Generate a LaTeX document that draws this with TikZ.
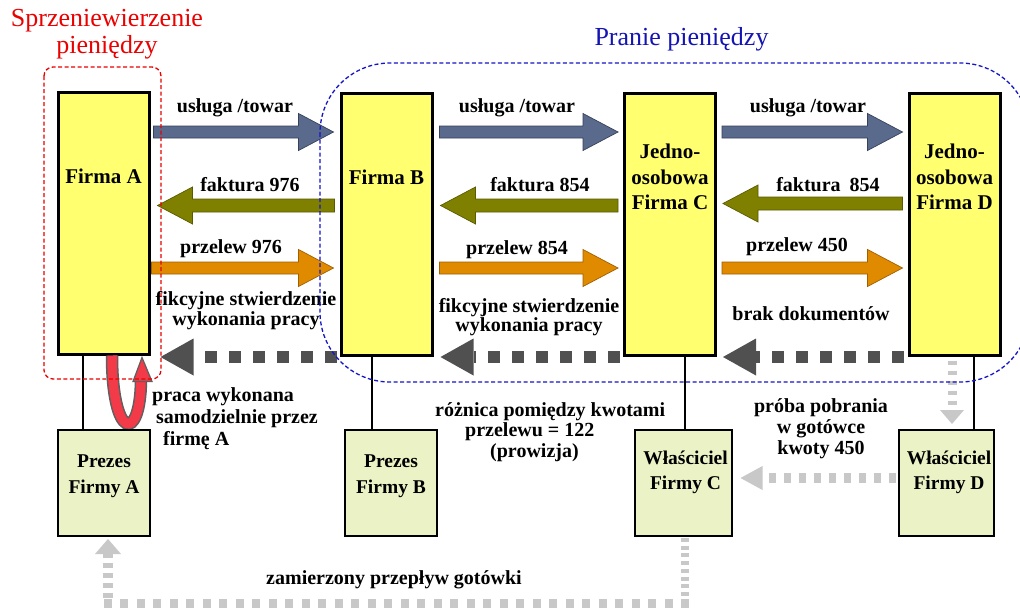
\documentclass[tikz,border=0pt]{standalone}
\usepackage{fontspec}
\setmainfont{Liberation Serif}
\usetikzlibrary{arrows.meta,calc}
\definecolor{yel}{RGB}{255,255,112}
\definecolor{lgr}{RGB}{235,243,198}
\definecolor{bgray}{RGB}{90,106,140}
\definecolor{bgrayd}{RGB}{55,65,90}
\definecolor{oliv}{RGB}{128,128,0}
\definecolor{olivd}{RGB}{90,90,0}
\definecolor{orng}{RGB}{224,138,0}
\definecolor{orngd}{RGB}{160,95,0}
\definecolor{dgr}{RGB}{80,80,80}
\definecolor{lgray}{RGB}{200,200,200}
\definecolor{redA}{RGB}{242,58,72}
\definecolor{uline}{RGB}{95,95,95}
\definecolor{titred}{RGB}{235,0,0}
\definecolor{titblue}{RGB}{20,20,180}
\definecolor{frblue}{RGB}{20,20,200}
\begin{document}
\begin{tikzpicture}[x=1pt,y=-1pt,
  topbox/.style={draw, line width=3pt, fill=yel, minimum width=91pt, minimum height=262pt, inner sep=0pt, outer sep=0pt},
  botbox/.style={draw, line width=1.8pt, fill=lgr, minimum height=106pt, inner sep=0pt, outer sep=0pt},
  boxtxt/.style={font=\fontsize{21}{25.5}\selectfont\bfseries, align=center, inner sep=0pt},
  btxt/.style={font=\fontsize{19.5}{25.5}\selectfont\bfseries, align=center, inner sep=0pt},
  lbl/.style={font=\fontsize{20}{21}\selectfont\bfseries, align=center, inner sep=0pt},
  thinline/.style={draw=black, line width=1.5pt},
  blockR/.style={line width=0.7pt, to path={let \p1=(\tikztostart), \p2=(\tikztotarget) in
     (\x1,\y1+6pt) -- (\x2-35pt,\y1+6pt) -- (\x2-35pt,\y1+18.5pt) -- (\x2,\y1) --
     (\x2-35pt,\y1-18.5pt) -- (\x2-35pt,\y1-6pt) -- (\x1,\y1-6pt) -- cycle}},
  blockL/.style={line width=0.7pt, to path={let \p1=(\tikztostart), \p2=(\tikztotarget) in
     (\x1,\y1+6.5pt) -- (\x2+35pt,\y1+6.5pt) -- (\x2+35pt,\y1+18.5pt) -- (\x2,\y1) --
     (\x2+35pt,\y1-18.5pt) -- (\x2+35pt,\y1-6.5pt) -- (\x1,\y1-6.5pt) -- cycle}},
  usl/.style={blockR, fill=bgray, draw=bgrayd},
  fak/.style={blockL, fill=oliv, draw=olivd},
  prz/.style={blockR, fill=orng, draw=orngd},
  dotarr/.style={draw=dgr, line width=12.5pt, dash pattern=on 12pt off 12pt,
     -{Triangle[length=33pt,width=37pt,line width=0pt]}},
  lgarr/.style={draw=lgray, -{Triangle[length=#1,width=24pt,line width=0pt]}},
  frame/.style={line width=1.3pt, dash pattern=on 4pt off 2.5pt}
]
\fill[white] (0,0) rectangle (1020,608);
\useasboundingbox (0,0) rectangle (1020,608);

% row levels
\coordinate (r1) at (0,132);
\coordinate (r2) at (0,205.5);
\coordinate (r2b) at (0,203.5);
\coordinate (r3) at (0,268);
\coordinate (r4) at (0,357);
\coordinate (r5) at (0,478);
\coordinate (bot) at (0,603);

% top boxes
\node[topbox] (FA) at (103.5,223) {};
\node[topbox] (FB) at (386.5,224.5) {};
\node[topbox] (FC) at (670,224.5) {};
\node[topbox] (FD) at (954.5,224.5) {};

% red U arrow (work done by firm A itself)
\draw[line width=12.5pt, draw=uline] ($(FA.south)+(8.5,1.5)$) .. controls ($(FA.south)+(8.5,85)$) and ($(FA.south)+(36.5,90)$) .. ($(FA.south)+(37.5,27)$);
\draw[line width=9.5pt, draw=redA] ($(FA.south)+(8.5,1.5)$) .. controls ($(FA.south)+(8.5,85)$) and ($(FA.south)+(36.5,90)$) .. ($(FA.south)+(37.5,27)$);
\filldraw[fill=redA, draw=uline, line width=1.2pt] ($(FA.south)+(29.5,27.5)$) -- ($(FA.south)+(48.5,27.5)$) -- ($(FA.south)+(38.5,3.5)$) -- cycle;

% bottom boxes
\node[botbox, minimum width=92pt] (PA) at (104,483) {};
\node[botbox, minimum width=92pt] (PB) at (391,483) {};
\node[botbox, minimum width=97pt] (WC) at (683.5,483) {};
\node[botbox, minimum width=95pt] (WD) at (946.5,483) {};

% thin connectors
\draw[thinline] ($(FA.south)+(-20.5,0)$) -- ($(FA.south |- PA.north)+(-20.5,0)$);
\draw[thinline] ($(FB.south)+(-14.5,0)$) -- ($(FB.south |- PB.north)+(-14.5,0)$);
\draw[thinline] ($(FC.south)+(15,0)$) -- ($(FC.south |- WC.north)+(15,0)$);
\draw[thinline] ($(FD.south)+(19.5,0)$) -- ($(FD.south |- WD.north)+(19.5,0)$);

% box texts
\node[boxtxt] (tA) at ($(FA.north)+(0,84)$) {Firma A};
\node[boxtxt] (tB) at ($(FB.north)+(0,83.5)$) {Firma B};
\node[boxtxt] (tC) at ($(FC.north)+(0,83.5)$) {Jedno-\\osobowa\\Firma C};
\node[boxtxt] (tD) at ($(FD.north)+(0,83.5)$) {Jedno-\\osobowa\\Firma D};
\node[btxt] (tPA) at ([yshift=7pt]PA.center) {Prezes\\Firmy A};
\node[btxt] (tPB) at ([yshift=7pt]PB.center) {Prezes\\Firmy B};
\node[btxt] (tWC) at ([xshift=2pt,yshift=10.5pt]WC.center) {Właściciel\\Firmy C};
\node[btxt] (tWD) at ([xshift=2.5pt,yshift=10.5pt]WD.center) {Właściciel\\Firmy D};

% usługa / towar
\draw[usl] ($(FA.east |- r1)+(4.5,0)$) to ($(FB.west |- r1)+(-7.5,0)$);
\draw[usl] ($(FB.east |- r1)+(7.5,0)$) to ($(FC.west |- r1)+(-6.5,0)$);
\draw[usl] ($(FC.east |- r1)+(6.5,0)$) to ($(FD.west |- r1)+(-6.5,0)$);
% faktura
\draw[fak] ($(FB.west |- r2)+(-6.5,0)$) to ($(FA.east |- r2)+(8.5,0)$);
\draw[fak] ($(FC.west |- r2)+(-6.5,0)$) to ($(FB.east |- r2)+(8.5,0)$);
\draw[fak] ($(FD.west |- r2b)+(-6.5,0)$) to ($(FC.east |- r2b)+(7.5,0)$);
% przelew
\draw[prz] ($(FA.east |- r3)+(2.5,0)$) to ($(FB.west |- r3)+(-7.5,0)$);
\draw[prz] ($(FB.east |- r3)+(7.5,0)$) to ($(FC.west |- r3)+(-6.5,0)$);
\draw[prz] ($(FC.east |- r3)+(6.5,0)$) to ($(FD.west |- r3)+(-6.5,0)$);
% dotted confirmations
\draw[dotarr] ($(FB.west |- r4)+(-4.5,0)$) -- ($(FA.east |- r4)+(11.5,0)$);
\draw[dotarr] ($(FC.west |- r4)+(-4.5,0)$) -- ($(FB.east |- r4)+(8.5,0)$);
\draw[dotarr] ($(FD.west |- r4)+(-5.5,0)$) -- ($(FC.east |- r4)+(7.5,0)$);

% light grey cash flows
\draw[lgarr=14pt, line width=9pt, dash pattern=on 4pt off 6pt] ($(FD.south)+(-2.5,5)$) -- ($(FD.south |- WD.north)+(-2.5,-6)$);
\draw[lgarr=22pt, line width=10pt, dash pattern=on 7pt off 8pt] ($(WD.west |- r5)+(-3,0)$) -- ($(WC.east |- r5)+(8.5,0)$);
\coordinate (c1) at ($(WC.south |- bot)+(1.5,0)$);
\coordinate (c2) at ($(PA.south |- bot)+(4,0)$);
\draw[draw=lgray, line width=8pt, dash pattern=on 4pt off 3.7pt] ($(WC.south)+(1.5,2)$) -- ($(c1)+(0,-4)$);
\draw[draw=lgray, line width=9pt, dash pattern=on 8pt off 8.5pt] ($(c1)+(4,0)$) -- ($(c2)+(-4,0)$);
\draw[draw=lgray, line width=10pt, dash pattern=on 5pt off 5pt, -{Triangle[length=15pt,width=26pt,line width=0pt]}] ($(c2)+(0,-5)$) -- ($(PA.south)+(4,3)$);

% labels
\node[lbl] (l1) at (235,108) {usługa /towar};
\node[lbl] (l2) at (517,108) {usługa /towar};
\node[lbl] (l3) at (808,108) {usługa /towar};
\node[lbl] (l4) at (250,185) {faktura 976};
\node[lbl] (l5) at (540,185) {faktura 854};
\node[lbl] (l6) at (828,185) {faktura\hspace{0.45em}854};
\node[lbl] (l7) at (231,249) {przelew 976};
\node[lbl] (l8) at (517,250) {przelew 854};
\node[lbl] (l9) at (797,247) {przelew 450};
\node[lbl, font=\fontsize{20}{20}\selectfont\bfseries] (l10) at (246,311) {fikcyjne stwierdzenie\\wykonania pracy};
\node[lbl, font=\fontsize{20}{19.5}\selectfont\bfseries] (l11) at (529,317) {fikcyjne stwierdzenie\\wykonania pracy};
\node[lbl] (l12) at (811,314) {brak dokumentów};
\node[lbl, align=left, anchor=west, font=\fontsize{20}{22}\selectfont\bfseries] (l13) at (152,419) {praca wykonana\\\hspace*{4pt}samodzielnie przez\\\hspace*{11pt}firmę A};
\node[lbl, align=left, anchor=west, font=\fontsize{20}{20.5}\selectfont\bfseries] (l14) at (435,432) {różnica pomiędzy kwotami\\\hspace*{30pt}przelewu = 122\\\hspace*{55pt}(prowizja)};
\node[lbl] (l15) at (821,429) {próba pobrania\\w gotówce\\kwoty 450};
\node[lbl] (l16) at (394,580) {zamierzony przepływ gotówki};

% titles
\node[font=\fontsize{26}{26.5}\selectfont, text=titred, align=center, inner sep=0pt] (t1) at (107,34) {Sprzeniewierzenie\\pieniędzy};
\node[font=\fontsize{26}{27}\selectfont, text=titblue, inner sep=0pt] (t2) at (681.5,39) {Pranie pieniędzy};

% dashed frames
\draw[frame, draw=frblue, rounded corners=70pt] (320,63) rectangle (1030,382);
\draw[frame, draw=titred, rounded corners=9pt] (44,67) rectangle (161,379);
\end{tikzpicture}
\end{document}
